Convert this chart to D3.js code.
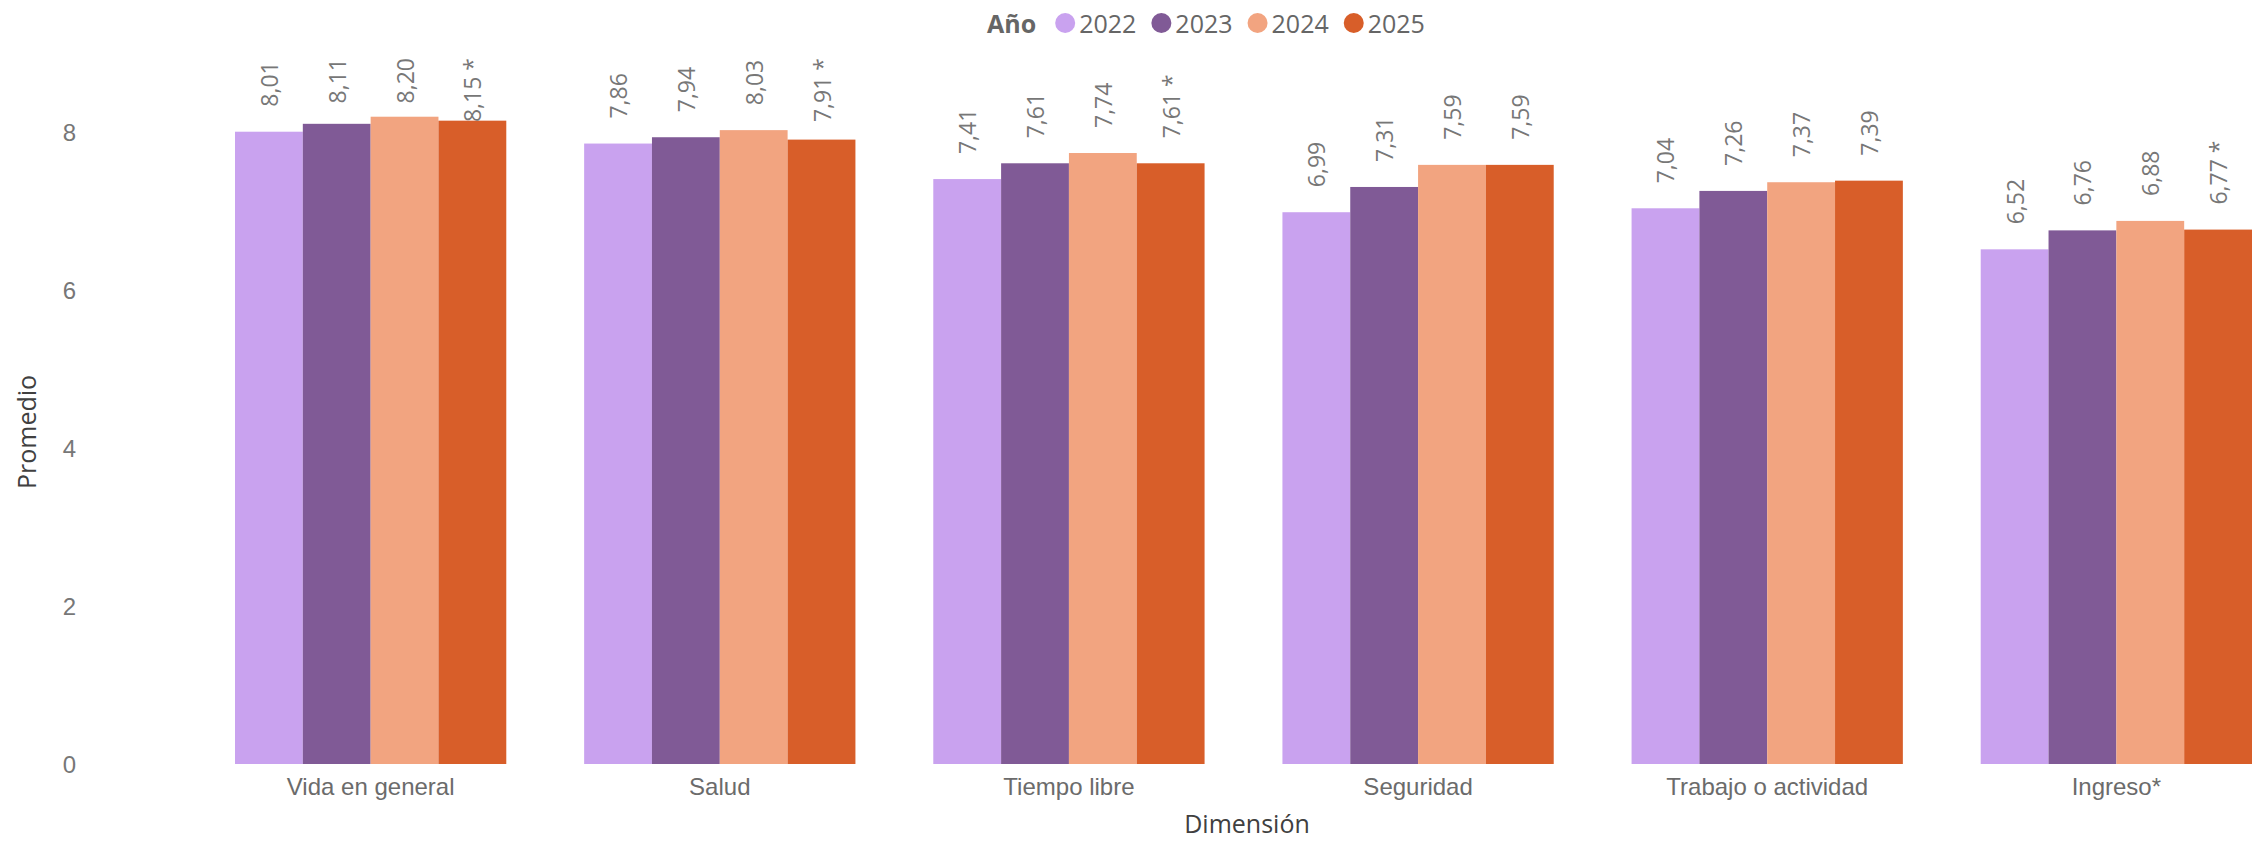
<!DOCTYPE html>
<html>
<head>
<meta charset="utf-8">
<script src="https://cdn.jsdelivr.net/npm/d3@7"></script>
<style>
  html, body { margin: 0; padding: 0; background: #ffffff; }
  svg { display: block; font-family: "Segoe UI", "Open Sans", sans-serif; }
</style>
</head>
<body>
<svg id="chart" width="2257" height="841"></svg>
<script>
const categories = ["Vida en general", "Salud", "Tiempo libre", "Seguridad", "Trabajo o actividad", "Ingreso*"];
const years = ["2022", "2023", "2024", "2025"];
const values2022 = [8.01, 7.86, 7.41, 6.99, 7.04, 6.52];
const values2023 = [8.11, 7.94, 7.61, 7.31, 7.26, 6.76];
const values2024 = [8.20, 8.03, 7.74, 7.59, 7.37, 6.88];
const values2025 = [8.15, 7.91, 7.61, 7.59, 7.39, 6.77];
const marks2025 = ["*", "*", "*", "", "", "*"];
const yTicks = [0, 2, 4, 6, 8];
const colors = ["#C9A2EF", "#805A96", "#F2A480", "#D85E29"];

const series = [values2022, values2023, values2024, values2025];
const marks = [[], [], [], marks2025];

const svg = d3.select("#chart");
svg.append("rect").attr("width", 2257).attr("height", 841).attr("fill", "#fff");

const x0 = d3.scaleBand().domain(categories).range([235, 2252]).paddingInner(0.223).paddingOuter(0);
const x1 = d3.scaleBand().domain(years).range([0, x0.bandwidth()]).padding(0);
const y = d3.scaleLinear().domain([0, 8]).range([764, 132.5]);

const rows = [];
categories.forEach((c, i) => {
  years.forEach((yr, j) => {
    const v = series[j][i];
    const m = marks[j][i] || "";
    rows.push({ cat: c, year: yr, value: v, color: colors[j],
      label: v.toFixed(2).replace(".", ",") + (m ? " " + m : "") });
  });
});

// Bars
svg.append("g").selectAll("rect").data(rows).join("rect")
  .attr("x", d => x0(d.cat) + x1(d.year))
  .attr("y", d => y(d.value))
  .attr("width", x1.bandwidth())
  .attr("height", d => y(0) - y(d.value))
  .attr("fill", d => d.color);

// Data labels (rotated)
const labelG = svg.append("g");
const labelTop = 58;
labelG.selectAll("text").data(rows).join("text")
  .text(d => d.label)
  .attr("font-size", 23)
  .attr("fill", "#777777")
  .attr("dominant-baseline", "central")
  .each(function(d) {
    const len = this.getComputedTextLength();
    let start = y(d.value) - 25;
    if (start - len < labelTop) start = labelTop + len;
    const cx = x0(d.cat) + x1(d.year) + x1.bandwidth() / 2;
    d3.select(this).attr("transform", `translate(${cx},${start}) rotate(-90)`);
  });

// Y axis
const yAxis = d3.axisLeft(y).tickValues(yTicks).tickSize(0).tickPadding(0).tickFormat(d3.format("d"));
const yg = svg.append("g").attr("transform", "translate(76,0)").call(yAxis);
yg.select(".domain").remove();
yg.selectAll("text").attr("font-size", 24).attr("fill", "#777777")
  .attr("font-family", null).attr("dy", "0.35em");

// X axis
const xAxis = d3.axisBottom(x0).tickSize(0).tickPadding(0);
const xg = svg.append("g").attr("transform", "translate(0,778)").call(xAxis);
xg.select(".domain").remove();
xg.selectAll("text").attr("font-size", 24).attr("fill", "#6b6b6b")
  .attr("font-family", null).attr("dy", "0.71em");

// Axis titles
svg.append("text").text("Dimensión")
  .attr("x", 1247).attr("y", 833)
  .attr("text-anchor", "middle").attr("font-size", 25).attr("fill", "#404040");
svg.append("text").text("Promedio")
  .attr("transform", "translate(26,432) rotate(-90)")
  .attr("text-anchor", "middle").attr("dominant-baseline", "central")
  .attr("font-size", 25).attr("fill", "#404040");

// Legend
const lg = svg.append("g");
let lx = 987;
const ly = 23;
const title = lg.append("text").text("Año").attr("x", lx).attr("y", ly)
  .attr("dominant-baseline", "central").attr("font-size", 25)
  .attr("font-weight", "bold").attr("fill", "#666666");
lx += title.node().getComputedTextLength() + 19;
years.forEach((yr, j) => {
  lg.append("circle").attr("cx", lx + 10).attr("cy", ly).attr("r", 10).attr("fill", colors[j]);
  const t = lg.append("text").text(yr).attr("x", lx + 24).attr("y", ly)
    .attr("dominant-baseline", "central").attr("font-size", 25).attr("fill", "#666666");
  lx += 24 + t.node().getComputedTextLength() + 15;
});
</script>
</body>
</html>
